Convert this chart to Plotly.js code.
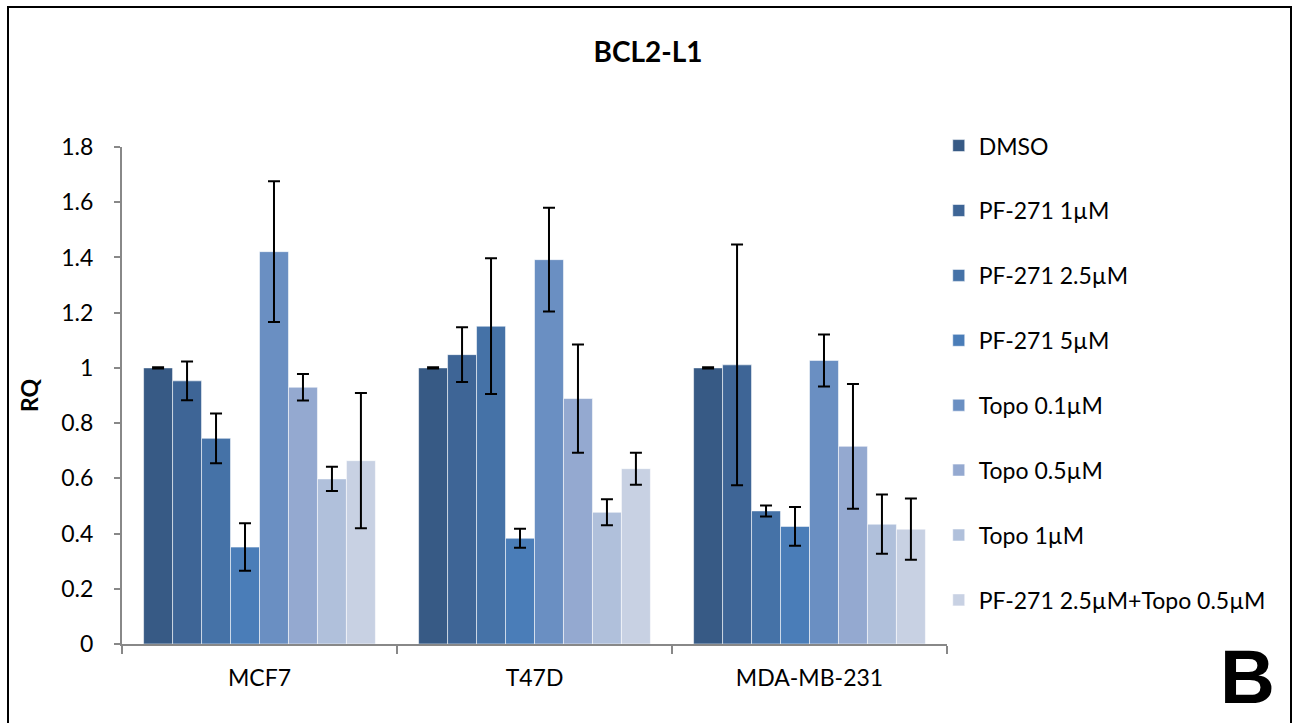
<!DOCTYPE html>
<html>
<head>
<meta charset="utf-8">
<script src="https://cdn.plot.ly/plotly-3.0.1.min.js"></script>
<style>
  html, body { margin: 0; padding: 0; background: #fff; }
  #chart { width: 1296px; height: 723px; }
  #frame { position: absolute; left: 7px; top: 6px; width: 1281px; height: 730px; border: 2px solid #000; pointer-events: none; }
</style>
</head>
<body>
<div id="chart"></div>
<div id="frame"></div>
<script>
const categories = ["MCF7", "T47D", "MDA-MB-231"];
const seriesNames = ["DMSO", "PF-271 1µM", "PF-271 2.5µM", "PF-271 5µM", "Topo 0.1µM", "Topo 0.5µM", "Topo 1µM", "PF-271 2.5µM+Topo 0.5µM"];
const dmso      = [1.000, 1.000, 1.000];
const pf1       = [0.953, 1.048, 1.011];
const pf25      = [0.745, 1.151, 0.482];
const pf5       = [0.351, 0.383, 0.426];
const topo01    = [1.421, 1.392, 1.027];
const topo05    = [0.930, 0.889, 0.716];
const topo1     = [0.598, 0.477, 0.434];
const combo     = [0.664, 0.635, 0.416];
const dmsoErr   = [0.002, 0.002, 0.002];
const pf1Err    = [0.070, 0.099, 0.436];
const pf25Err   = [0.090, 0.246, 0.020];
const pf5Err    = [0.086, 0.034, 0.070];
const topo01Err = [0.255, 0.188, 0.094];
const topo05Err = [0.048, 0.196, 0.226];
const topo1Err  = [0.044, 0.047, 0.107];
const comboErr  = [0.245, 0.058, 0.111];
const colors = ["#375A85", "#3E6596", "#4572A7", "#4A7DB8", "#6A8FC2", "#94A9D0", "#B0C0DB", "#C8D1E3"];

const values = [dmso, pf1, pf25, pf5, topo01, topo05, topo1, combo];
const errors = [dmsoErr, pf1Err, pf25Err, pf5Err, topo01Err, topo05Err, topo1Err, comboErr];
const FONT = "Lato, 'Open Sans', sans-serif";

const traces = seriesNames.map((name, i) => ({
  type: "bar",
  name: name,
  x: categories,
  y: values[i],
  legendgroup: "g" + i,
  marker: { color: colors[i], line: { color: "rgba(255,255,255,0.55)", width: 1 } },
  error_y: { type: "data", array: errors[i], visible: true, color: "#000", thickness: 2, width: 6 }
}));

const layout = {
  width: 1296, height: 723,
  paper_bgcolor: "#fff", plot_bgcolor: "#fff",
  margin: { l: 122, r: 349, t: 147, b: 79 },
  barmode: "group",
  bargap: 0.157,
  bargroupgap: 0,
  font: { family: FONT, color: "#000", size: 23 },
  title: { text: "<b>BCL2-L1</b>", x: 0.5, xref: "container", xanchor: "center", y: 0.928, yref: "container", yanchor: "middle",
           font: { family: FONT, size: 28, color: "#000" } },
  xaxis: {
    showline: true, linecolor: "#888", linewidth: 2,
    ticks: "outside", tickson: "boundaries", ticklen: 8, tickcolor: "#888", tickwidth: 2,
    ticklabelstandoff: 12,
    tickfont: { family: FONT, size: 23 }, showgrid: false
  },
  yaxis: {
    range: [0, 1.8], dtick: 0.2, tick0: 0,
    showline: true, linecolor: "#888", linewidth: 2,
    ticks: "outside", ticklen: 6, tickcolor: "#888", tickwidth: 2,
    ticklabelstandoff: 16,
    tickfont: { family: FONT, size: 23 }, showgrid: false, zeroline: false,
    tickformat: "~g",
    title: { text: "<b>RQ</b>", font: { family: FONT, size: 23 }, standoff: 16 }
  },
  legend: {
    x: 0.99, xanchor: "left", y: 1.046, yanchor: "top",
    traceorder: "grouped", tracegroupgap: 32,
    font: { family: FONT, size: 23 },
    itemwidth: 30, bgcolor: "rgba(0,0,0,0)", maxheight: 700
  },
  annotations: [{
    text: "<b>B</b>", xref: "paper", yref: "paper", x: 1.4, y: -0.066,
    xanchor: "right", yanchor: "middle", showarrow: false,
    font: { family: "Liberation Sans, Arial, sans-serif", size: 76, color: "#000" }
  }]
};

Plotly.newPlot("chart", traces, layout, { displayModeBar: false, responsive: false });
</script>
</body>
</html>
